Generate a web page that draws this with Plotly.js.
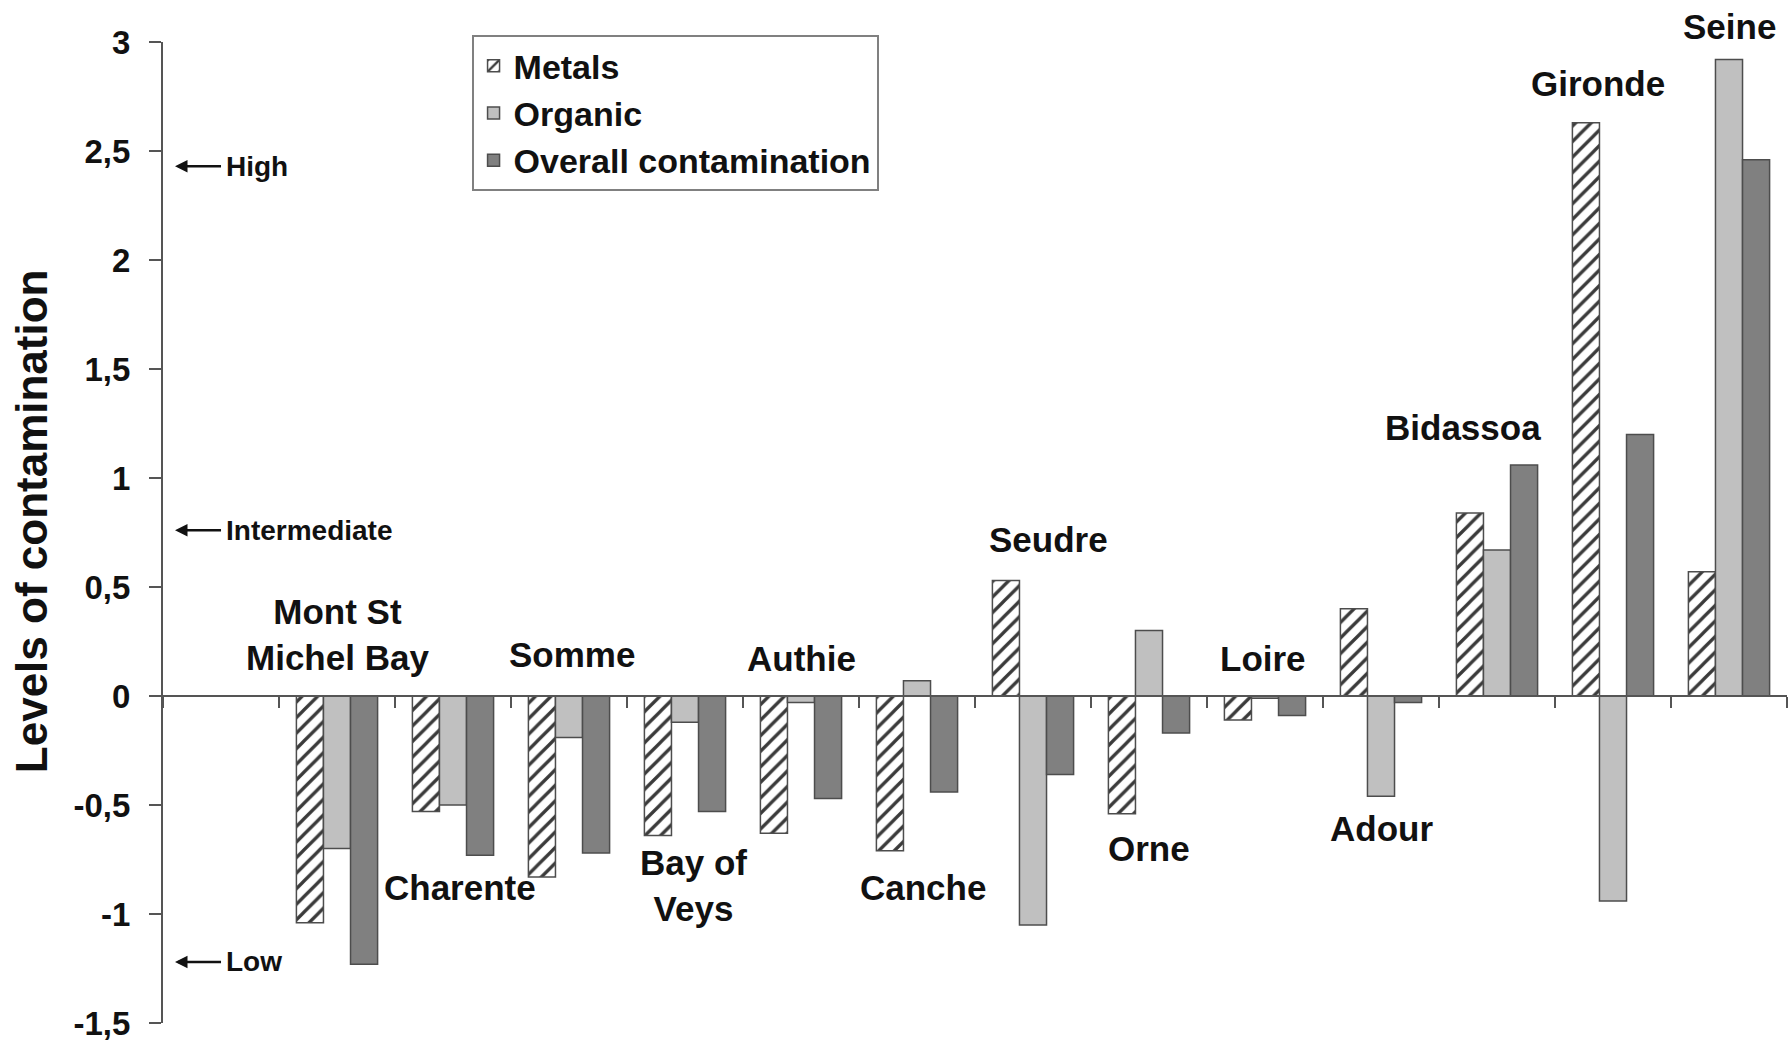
<!DOCTYPE html>
<html>
<head>
<meta charset="utf-8">
<script src="https://cdn.plot.ly/plotly-3.0.1.min.js"></script>
<style>
  html, body { margin: 0; padding: 0; background: #fff; }
  #chart { width: 1790px; height: 1044px; }
</style>
</head>
<body>
<div id="chart"></div>
<script>
// ---- Data ----
const sites = ["Mont St<br>Michel Bay", "Charente", "Somme", "Bay of<br>Veys", "Authie", "Canche",
               "Seudre", "Orne", "Loire", "Adour", "Bidassoa", "Gironde", "Seine"];
const metals  = [-1.04, -0.53, -0.83, -0.64, -0.63, -0.71, 0.53, -0.54, -0.11, 0.40, 0.84, 2.63, 0.57];
const organic = [-0.70, -0.50, -0.19, -0.12, -0.03, 0.07, -1.05, 0.30, -0.01, -0.46, 0.67, -0.94, 2.92];
const overall = [-1.23, -0.73, -0.72, -0.53, -0.47, -0.44, -0.36, -0.17, -0.09, -0.03, 1.06, 1.20, 2.46];
const seriesNames = ["Metals", "Organic", "Overall contamination"];
const yTickVals = [-1.5, -1, -0.5, 0, 0.5, 1, 1.5, 2, 2.5, 3];
const yTickText = ["-1,5", "-1", "-0,5", "0", "0,5", "1", "1,5", "2", "2,5", "3"];
const yTitle = "Levels of contamination";
const levelNames = ["High", "Intermediate", "Low"];
const levelValues = [2.43, 0.76, -1.22];

// label placement (styling): y position in data units and x offset in category units
const labelY  = [0.28, -0.88, 0.19, -0.87, 0.17, -0.88, 0.72, -0.70, 0.17, -0.61, 1.23, 2.81, 3.07];
const labelDx = [0, 0.06, 0.03, 0.07, 0, 0.05, 0.13, 0, -0.02, 0, -0.29, -0.13, 0];

// category positions: slot 0 is an empty category, sites occupy 1..13
const xPos = sites.map((_, i) => i + 1);
const Y_MIN = -1.5, Y_MAX = 3;
const toPaperY = v => (v - Y_MIN) / (Y_MAX - Y_MIN);

const FONT = "Arial, 'Liberation Sans', Helvetica, sans-serif";
const outline = { color: "#4d4d4d", width: 1.5 };

const traces = [
  {
    type: "bar", name: seriesNames[0], x: xPos, y: metals,
    marker: { color: "#ffffff", line: outline,
              pattern: { shape: "/", fgcolor: "#3a3a3a", bgcolor: "#ffffff", size: 11, solidity: 0.3 } },
    hoverinfo: "skip"
  },
  {
    type: "bar", name: seriesNames[1], x: xPos, y: organic,
    marker: { color: "#c0c0c0", line: outline },
    hoverinfo: "skip"
  },
  {
    type: "bar", name: seriesNames[2], x: xPos, y: overall,
    marker: { color: "#808080", line: outline },
    hoverinfo: "skip"
  }
];

const annotations = [];
sites.forEach((s, i) => {
  annotations.push({
    x: xPos[i] + labelDx[i], y: toPaperY(labelY[i]), xref: "x", yref: "paper",
    text: "<b>" + s + "</b>", showarrow: false,
    xanchor: "center", yanchor: "middle",
    font: { family: FONT, size: 35, color: "#111" }
  });
});
levelNames.forEach((t, i) => {
  annotations.push({
    x: 0.0074, y: levelValues[i], xref: "paper", yref: "y",
    text: "<b>" + t + "</b>", showarrow: true,
    ax: 46, ay: 0, xanchor: "left", yanchor: "middle", borderpad: 4,
    arrowhead: 2, arrowsize: 1, arrowwidth: 2.5, arrowcolor: "#111",
    font: { family: FONT, size: 28, color: "#111" }
  });
});
annotations.push({
  x: -0.081, y: 0.512, xref: "paper", yref: "paper",
  text: "<b>" + yTitle + "</b>", textangle: -90, showarrow: false,
  xanchor: "center", yanchor: "middle",
  font: { family: FONT, size: 44, color: "#111" }
});

const layout = {
  width: 1790, height: 1044,
  margin: { l: 163, r: 3, t: 42, b: 21, pad: 0 },
  paper_bgcolor: "#ffffff", plot_bgcolor: "#ffffff",
  font: { family: FONT, color: "#111" },
  barmode: "group", bargap: 0.3, bargroupgap: 0,
  showlegend: true,
  legend: {
    x: 0.19, y: 1.007, xanchor: "left", yanchor: "top",
    bgcolor: "#ffffff", bordercolor: "#808080", borderwidth: 2,
    font: { family: FONT, size: 34, color: "#111", weight: "bold" },
    traceorder: "normal"
  },
  xaxis: {
    range: [-0.5, 13.5], anchor: "free", position: toPaperY(0),
    showgrid: false, zeroline: false,
    showline: true, linecolor: "#555", linewidth: 2,
    tickmode: "linear", tick0: 0.5, dtick: 1,
    ticks: "outside", ticklen: 11, tickwidth: 1.5, tickcolor: "#555",
    showticklabels: false, fixedrange: true
  },
  yaxis: {
    range: [Y_MIN, Y_MAX], showgrid: false, zeroline: false,
    showline: true, linecolor: "#555", linewidth: 2,
    tickmode: "array", tickvals: yTickVals, ticktext: yTickText,
    ticks: "outside", ticklen: 12, tickwidth: 1.5, tickcolor: "#555",
    ticklabelstandoff: 12,
    tickfont: { family: FONT, size: 33, color: "#111", weight: "bold" },
    fixedrange: true
  },
  annotations: annotations
};

Plotly.newPlot("chart", traces, layout, { displayModeBar: false, staticPlot: true });
</script>
</body>
</html>
